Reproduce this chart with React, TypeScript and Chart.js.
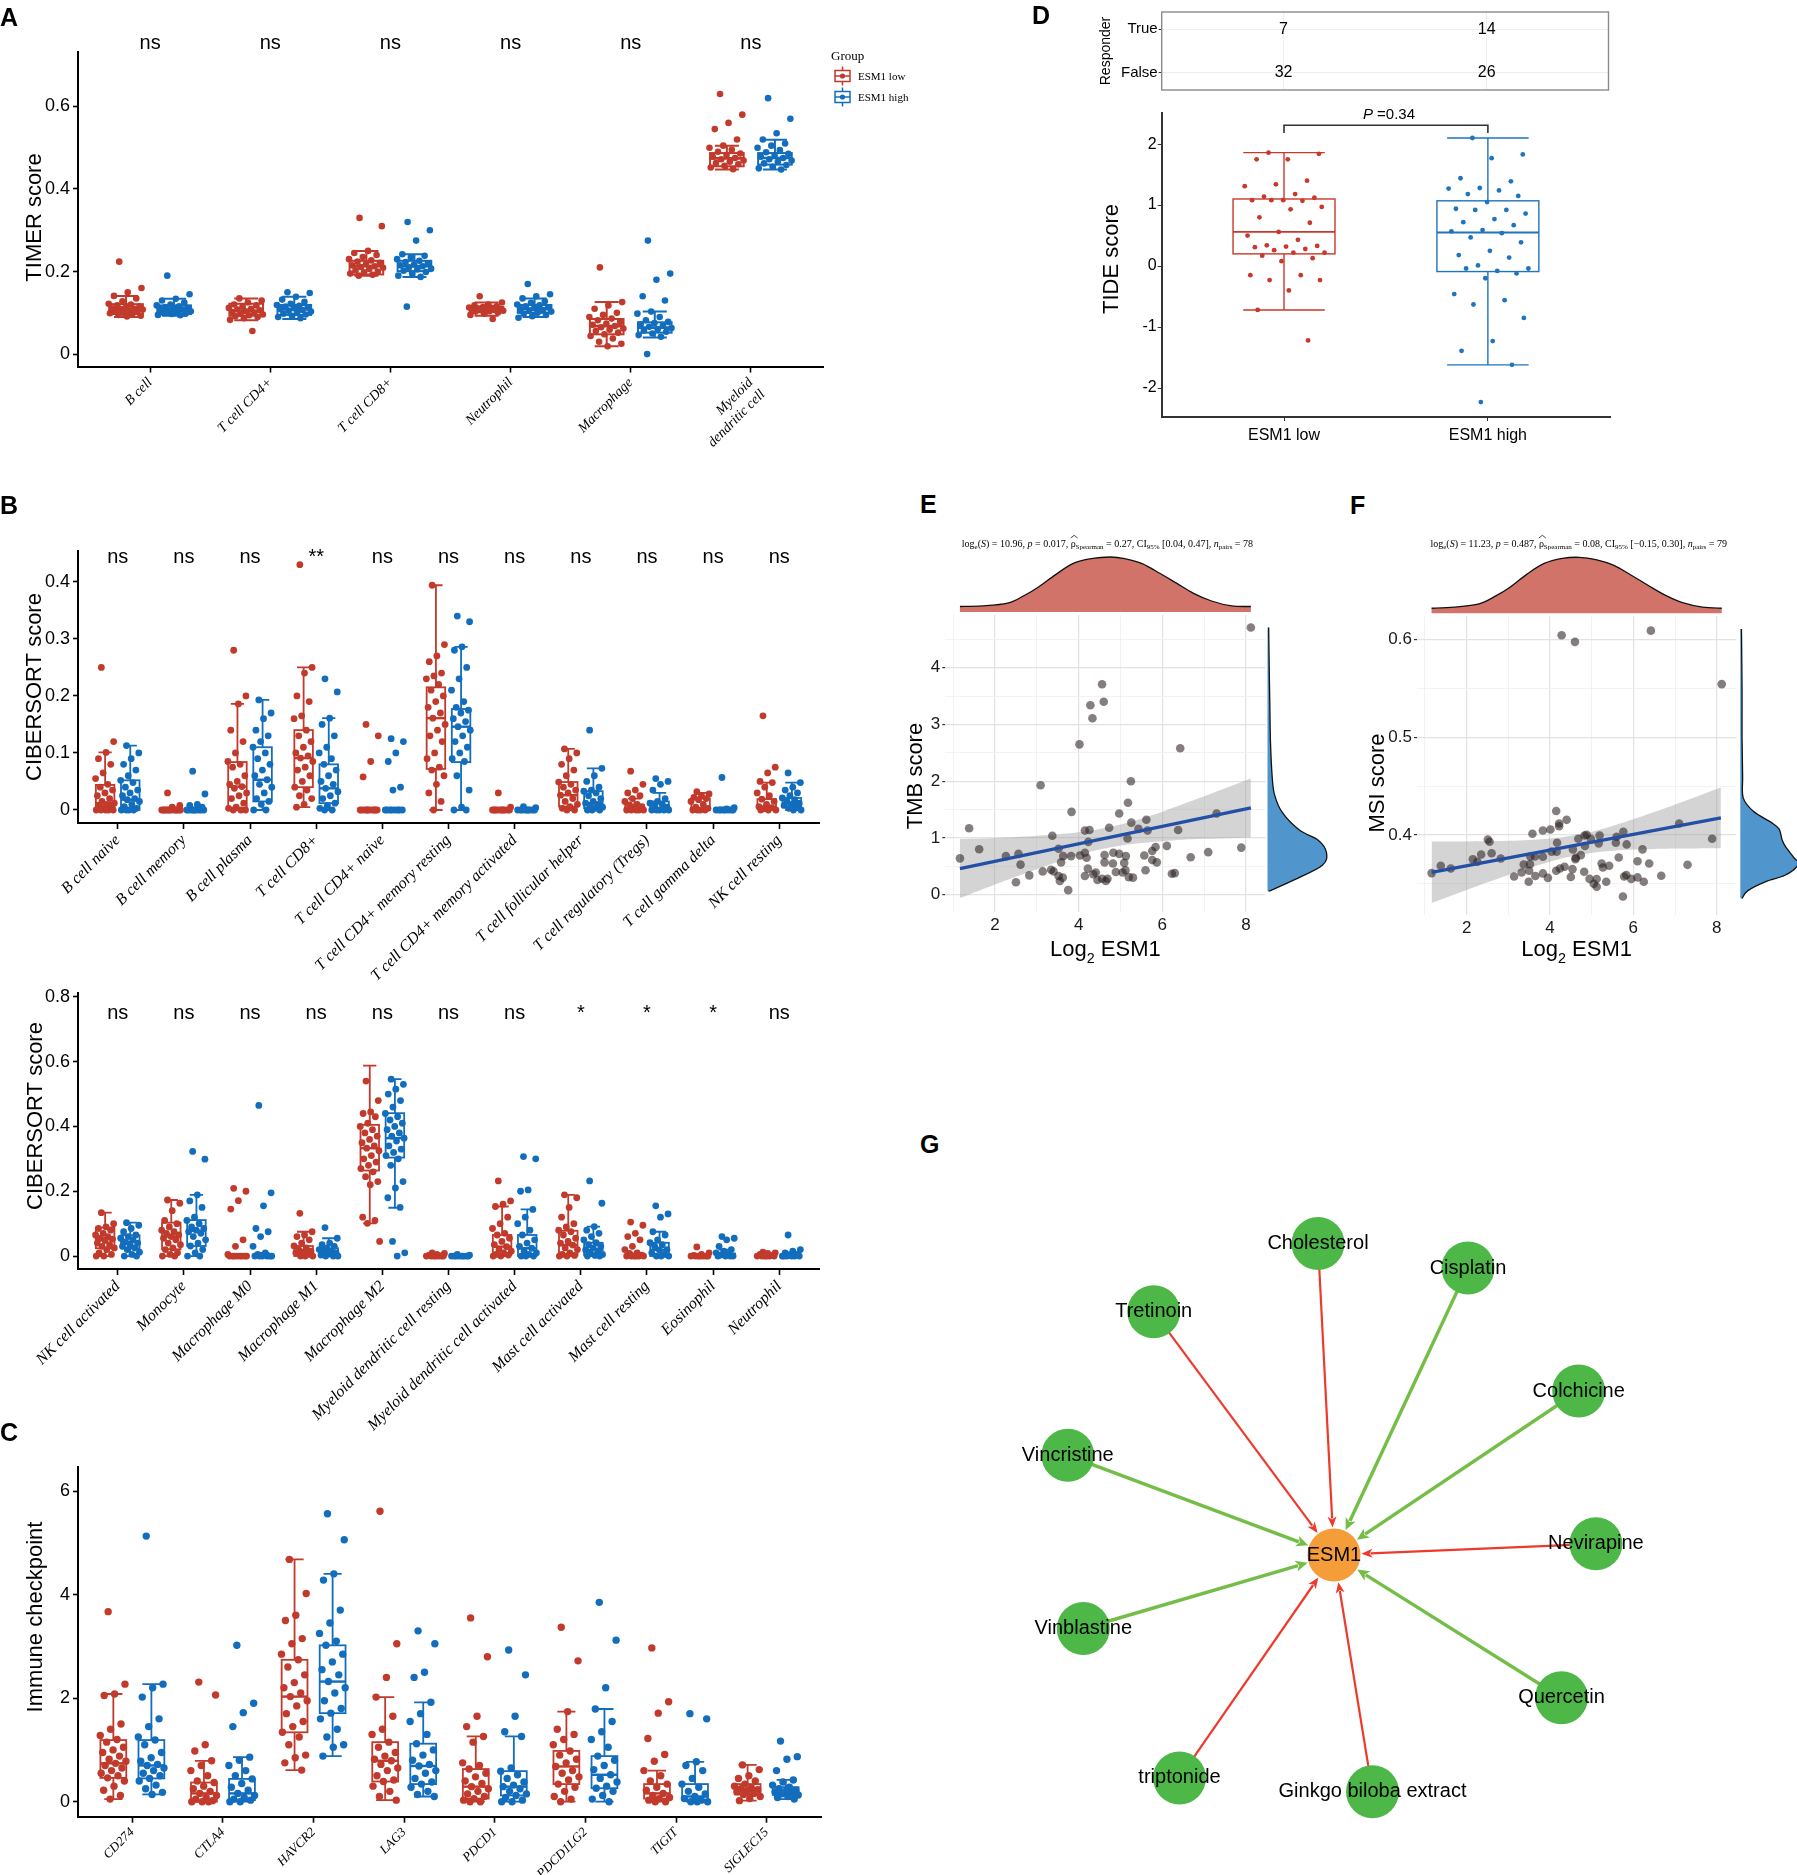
import React, { useEffect, useRef } from 'react';
import { Chart, registerables } from 'chart.js';

Chart.register(...registerables);
Chart.defaults.font.family = '"Liberation Sans", Arial, sans-serif';
Chart.defaults.color = '#000';

// ===================== DATA =====================
const groupNames = ['ESM1 low', 'ESM1 high'];

// ---- Panel A : TIMER ----
const timerCells: (string | string[])[] = ['B cell', 'T cell CD4+', 'T cell CD8+', 'Neutrophil', 'Macrophage', ['Myeloid', 'dendritic cell']];
const timerSig = ['ns', 'ns', 'ns', 'ns', 'ns', 'ns'];
const timerTicks = [0, 0.2, 0.4, 0.6];
const timerLowBox = [
  [0.09, 0.097, 0.109, 0.121, 0.141], [0.082, 0.093, 0.105, 0.122, 0.135], [0.19, 0.193, 0.213, 0.226, 0.25],
  [0.093, 0.103, 0.108, 0.114, 0.125], [0.019, 0.048, 0.068, 0.085, 0.126], [0.447, 0.455, 0.474, 0.487, 0.505],
];
const timerHighBox = [
  [0.093, 0.097, 0.109, 0.118, 0.134], [0.085, 0.095, 0.109, 0.119, 0.139], [0.187, 0.201, 0.213, 0.226, 0.242],
  [0.09, 0.1, 0.11, 0.119, 0.135], [0.04, 0.052, 0.064, 0.077, 0.103], [0.447, 0.459, 0.475, 0.487, 0.519],
];
const timerLowPts = [
  [0.224, 0.16, 0.15, 0.141, 0.135, 0.128, 0.122, 0.12, 0.118, 0.115, 0.113, 0.111, 0.11, 0.109, 0.108, 0.106, 0.104, 0.102, 0.1, 0.099, 0.097, 0.095, 0.093, 0.091],
  [0.135, 0.13, 0.125, 0.12, 0.118, 0.115, 0.112, 0.11, 0.108, 0.106, 0.104, 0.102, 0.1, 0.098, 0.096, 0.094, 0.092, 0.09, 0.087, 0.083, 0.056],
  [0.33, 0.31, 0.25, 0.245, 0.24, 0.235, 0.23, 0.227, 0.224, 0.221, 0.218, 0.215, 0.213, 0.211, 0.209, 0.206, 0.203, 0.2, 0.198, 0.195, 0.192, 0.19],
  [0.14, 0.125, 0.12, 0.118, 0.116, 0.114, 0.113, 0.112, 0.111, 0.11, 0.109, 0.108, 0.107, 0.106, 0.105, 0.104, 0.103, 0.101, 0.098, 0.095, 0.085],
  [0.21, 0.126, 0.118, 0.11, 0.1, 0.095, 0.09, 0.086, 0.082, 0.078, 0.074, 0.071, 0.068, 0.065, 0.062, 0.059, 0.056, 0.052, 0.048, 0.044, 0.038, 0.03, 0.025, 0.019],
  [0.63, 0.58, 0.56, 0.545, 0.52, 0.505, 0.5, 0.495, 0.49, 0.486, 0.482, 0.478, 0.475, 0.472, 0.469, 0.466, 0.463, 0.46, 0.456, 0.452, 0.448],
];
const timerHighPts = [
  [0.19, 0.145, 0.134, 0.13, 0.125, 0.12, 0.118, 0.116, 0.114, 0.112, 0.11, 0.109, 0.108, 0.106, 0.104, 0.102, 0.1, 0.098, 0.097, 0.095, 0.094],
  [0.15, 0.148, 0.139, 0.132, 0.127, 0.122, 0.119, 0.117, 0.115, 0.113, 0.111, 0.109, 0.107, 0.105, 0.103, 0.1, 0.098, 0.096, 0.093, 0.09, 0.087],
  [0.32, 0.3, 0.275, 0.242, 0.238, 0.234, 0.23, 0.226, 0.223, 0.22, 0.217, 0.215, 0.213, 0.21, 0.207, 0.205, 0.202, 0.199, 0.195, 0.19, 0.187, 0.115],
  [0.17, 0.145, 0.14, 0.135, 0.128, 0.124, 0.12, 0.118, 0.116, 0.113, 0.111, 0.109, 0.107, 0.105, 0.103, 0.1, 0.098, 0.095, 0.092, 0.088],
  [0.275, 0.195, 0.18, 0.14, 0.13, 0.103, 0.098, 0.09, 0.082, 0.078, 0.075, 0.072, 0.069, 0.066, 0.063, 0.06, 0.057, 0.054, 0.05, 0.046, 0.042, 0.0],
  [0.62, 0.57, 0.535, 0.52, 0.51, 0.505, 0.5, 0.494, 0.489, 0.485, 0.481, 0.478, 0.475, 0.472, 0.469, 0.466, 0.462, 0.458, 0.454, 0.45, 0.447],
];

// ---- Panel B (upper) : CIBERSORT ----
const cib1Cells = ['B cell naive', 'B cell memory', 'B cell plasma', 'T cell CD8+', 'T cell CD4+ naive', 'T cell CD4+ memory resting',
  'T cell CD4+ memory activated', 'T cell follicular helper', 'T cell regulatory (Tregs)', 'T cell gamma delta', 'NK cell resting'];
const cib1Sig = ['ns', 'ns', 'ns', '**', 'ns', 'ns', 'ns', 'ns', 'ns', 'ns', 'ns'];
const cib1Ticks = [0, 0.1, 0.2, 0.3, 0.4];
const cib1LowBox = [
  [0, 0, 0.012, 0.044, 0.101], [0, 0, 0, 0, 0], [0, 0.003, 0.041, 0.084, 0.186], [0.005, 0.04, 0.091, 0.14, 0.25],
  [0, 0, 0, 0, 0], [0, 0.072, 0.161, 0.215, 0.394], [0, 0, 0, 0, 0], [0, 0.006, 0.026, 0.049, 0.107],
  [0, 0, 0, 0.009, 0.02], [0, 0, 0.003, 0.02, 0.03], [0, 0.002, 0.006, 0.019, 0.048],
];
const cib1HighBox = [
  [0, 0, 0.018, 0.052, 0.113], [0, 0, 0, 0, 0], [0, 0.015, 0.053, 0.11, 0.193], [0, 0.012, 0.038, 0.08, 0.161],
  [0, 0, 0, 0, 0], [0, 0.084, 0.146, 0.177, 0.286], [0, 0, 0, 0, 0], [0, 0.003, 0.012, 0.033, 0.073],
  [0, 0, 0, 0.015, 0.03], [0, 0, 0, 0.002, 0.004], [0, 0.005, 0.012, 0.021, 0.048],
];
const cib1LowPts = [
  [0.25, 0.12, 0.101, 0.09, 0.08, 0.065, 0.055, 0.045, 0.04, 0.035, 0.03, 0.025, 0.02, 0.015, 0.012, 0.01, 0.008, 0.005, 0.003, 0, 0, 0, 0, 0],
  [0.03, 0.008, 0.005, 0, 0, 0, 0, 0, 0, 0, 0, 0, 0, 0, 0],
  [0.28, 0.2, 0.186, 0.14, 0.12, 0.1, 0.085, 0.08, 0.075, 0.06, 0.05, 0.045, 0.041, 0.038, 0.03, 0.025, 0.02, 0.012, 0.005, 0.003, 0, 0, 0],
  [0.43, 0.25, 0.24, 0.2, 0.19, 0.165, 0.16, 0.14, 0.13, 0.12, 0.11, 0.1, 0.095, 0.091, 0.085, 0.075, 0.07, 0.06, 0.05, 0.04, 0.035, 0.025, 0.02, 0.01, 0.005],
  [0.15, 0.13, 0.085, 0.058, 0, 0, 0, 0, 0, 0, 0, 0, 0, 0],
  [0.394, 0.29, 0.27, 0.26, 0.24, 0.235, 0.23, 0.22, 0.21, 0.2, 0.19, 0.18, 0.17, 0.161, 0.15, 0.14, 0.13, 0.12, 0.1, 0.09, 0.075, 0.07, 0.06, 0.045, 0.03, 0.015, 0],
  [0.03, 0.005, 0, 0, 0, 0, 0, 0, 0, 0, 0, 0],
  [0.107, 0.1, 0.09, 0.08, 0.07, 0.06, 0.049, 0.045, 0.04, 0.035, 0.03, 0.026, 0.02, 0.015, 0.01, 0.006, 0.003, 0, 0],
  [0.068, 0.045, 0.035, 0.03, 0.025, 0.02, 0.015, 0.01, 0.009, 0.006, 0.003, 0, 0, 0, 0, 0],
  [0.032, 0.028, 0.025, 0.022, 0.02, 0.018, 0.015, 0.01, 0.005, 0.003, 0, 0, 0, 0],
  [0.165, 0.075, 0.065, 0.05, 0.048, 0.04, 0.03, 0.025, 0.019, 0.015, 0.01, 0.006, 0.004, 0.002, 0, 0, 0],
];
const cib1HighPts = [
  [0.113, 0.1, 0.09, 0.08, 0.07, 0.06, 0.052, 0.048, 0.04, 0.035, 0.03, 0.025, 0.02, 0.018, 0.015, 0.01, 0.006, 0.003, 0, 0, 0, 0],
  [0.068, 0.028, 0.01, 0.008, 0.005, 0, 0, 0, 0, 0, 0, 0, 0, 0],
  [0.193, 0.17, 0.16, 0.14, 0.13, 0.12, 0.11, 0.1, 0.09, 0.08, 0.07, 0.06, 0.053, 0.045, 0.04, 0.03, 0.02, 0.015, 0.01, 0, 0],
  [0.23, 0.207, 0.161, 0.15, 0.13, 0.11, 0.1, 0.09, 0.08, 0.07, 0.06, 0.05, 0.045, 0.038, 0.032, 0.025, 0.02, 0.012, 0.008, 0.003, 0, 0],
  [0.125, 0.12, 0.1, 0.085, 0.04, 0.035, 0, 0, 0, 0, 0, 0, 0, 0],
  [0.34, 0.33, 0.286, 0.28, 0.25, 0.23, 0.21, 0.19, 0.18, 0.175, 0.17, 0.16, 0.155, 0.146, 0.14, 0.13, 0.12, 0.11, 0.1, 0.09, 0.085, 0.06, 0.035, 0.005, 0, 0],
  [0.006, 0.004, 0, 0, 0, 0, 0, 0, 0, 0, 0],
  [0.14, 0.073, 0.06, 0.05, 0.04, 0.035, 0.033, 0.03, 0.025, 0.02, 0.015, 0.012, 0.01, 0.008, 0.005, 0.003, 0, 0, 0],
  [0.055, 0.05, 0.045, 0.035, 0.02, 0.015, 0.012, 0.01, 0.008, 0.005, 0, 0, 0, 0, 0],
  [0.057, 0.004, 0.002, 0, 0, 0, 0, 0, 0, 0, 0],
  [0.065, 0.048, 0.04, 0.035, 0.03, 0.025, 0.021, 0.018, 0.015, 0.012, 0.01, 0.008, 0.005, 0.003, 0, 0],
];

// ---- Panel B (lower) : CIBERSORT ----
const cib2Cells = ['NK cell activated', 'Monocyte', 'Macrophage M0', 'Macrophage M1', 'Macrophage M2', 'Myeloid dendritic cell resting',
  'Myeloid dendritic cell activated', 'Mast cell activated', 'Mast cell resting', 'Eosinophil', 'Neutrophil'];
const cib2Sig = ['ns', 'ns', 'ns', 'ns', 'ns', 'ns', 'ns', '*', '*', '*', 'ns'];
const cib2Ticks = [0, 0.2, 0.4, 0.6, 0.8];
const cib2LowBox = [
  [0, 0.024, 0.052, 0.088, 0.134], [0, 0.021, 0.06, 0.103, 0.173], [0, 0, 0, 0, 0], [0, 0, 0.013, 0.031, 0.075],
  [0.101, 0.264, 0.333, 0.405, 0.588], [0, 0, 0, 0.003, 0.008], [0, 0.003, 0.029, 0.065, 0.153], [0, 0.002, 0.034, 0.078, 0.189],
  [0, 0, 0, 0.003, 0.008], [0, 0, 0, 0, 0.002], [0, 0, 0, 0.002, 0.005],
];
const cib2HighBox = [
  [0, 0.024, 0.044, 0.064, 0.103], [0, 0.031, 0.078, 0.111, 0.189], [0, 0, 0, 0.005, 0.01], [0, 0.002, 0.01, 0.024, 0.055],
  [0.149, 0.304, 0.364, 0.441, 0.546], [0, 0, 0, 0, 0.003], [0, 0, 0.024, 0.065, 0.144], [0, 0.002, 0.019, 0.041, 0.091],
  [0, 0, 0.019, 0.041, 0.075], [0, 0, 0, 0.008, 0.02], [0, 0, 0, 0.004, 0.01],
];
const cib2LowPts = [
  [0.134, 0.1, 0.09, 0.085, 0.08, 0.07, 0.065, 0.06, 0.055, 0.052, 0.048, 0.04, 0.035, 0.03, 0.025, 0.02, 0.01, 0.005, 0, 0],
  [0.173, 0.163, 0.14, 0.11, 0.1, 0.09, 0.08, 0.075, 0.07, 0.065, 0.06, 0.055, 0.05, 0.04, 0.035, 0.025, 0.02, 0.01, 0.005, 0, 0],
  [0.209, 0.2, 0.171, 0.145, 0.05, 0.03, 0.005, 0, 0, 0, 0, 0, 0, 0, 0],
  [0.132, 0.075, 0.065, 0.06, 0.05, 0.04, 0.031, 0.025, 0.02, 0.015, 0.013, 0.01, 0.005, 0, 0, 0],
  [0.54, 0.48, 0.445, 0.44, 0.43, 0.41, 0.4, 0.39, 0.38, 0.37, 0.36, 0.35, 0.34, 0.333, 0.325, 0.31, 0.3, 0.29, 0.28, 0.27, 0.26, 0.245, 0.23, 0.22, 0.12, 0.11, 0.101, 0.045],
  [0.01, 0.008, 0.005, 0.003, 0, 0, 0, 0, 0, 0, 0],
  [0.232, 0.17, 0.16, 0.153, 0.12, 0.1, 0.085, 0.07, 0.065, 0.055, 0.045, 0.035, 0.029, 0.02, 0.015, 0.01, 0.005, 0.003, 0, 0],
  [0.189, 0.18, 0.15, 0.12, 0.1, 0.09, 0.08, 0.075, 0.065, 0.055, 0.045, 0.04, 0.034, 0.025, 0.02, 0.01, 0.005, 0.002, 0, 0],
  [0.105, 0.095, 0.07, 0.06, 0.05, 0.03, 0.02, 0.01, 0.008, 0.003, 0, 0, 0, 0, 0, 0],
  [0.028, 0.01, 0.005, 0.002, 0, 0, 0, 0, 0, 0, 0],
  [0.012, 0.01, 0.008, 0.005, 0.002, 0, 0, 0, 0, 0, 0],
];
const cib2HighPts = [
  [0.103, 0.095, 0.085, 0.075, 0.065, 0.06, 0.055, 0.05, 0.044, 0.04, 0.035, 0.03, 0.025, 0.02, 0.012, 0.005, 0, 0],
  [0.323, 0.299, 0.189, 0.17, 0.15, 0.12, 0.11, 0.1, 0.09, 0.085, 0.08, 0.075, 0.07, 0.06, 0.05, 0.04, 0.031, 0.02, 0.01, 0, 0],
  [0.465, 0.195, 0.155, 0.085, 0.075, 0.06, 0.03, 0.01, 0.005, 0, 0, 0, 0, 0, 0],
  [0.088, 0.055, 0.04, 0.035, 0.03, 0.024, 0.02, 0.015, 0.012, 0.01, 0.006, 0.003, 0, 0, 0],
  [0.546, 0.53, 0.515, 0.5, 0.48, 0.46, 0.44, 0.43, 0.42, 0.41, 0.4, 0.39, 0.38, 0.37, 0.364, 0.355, 0.34, 0.33, 0.32, 0.31, 0.3, 0.28, 0.23, 0.21, 0.18, 0.15, 0.045, 0.01, 0.0],
  [0.005, 0.003, 0, 0, 0, 0, 0, 0, 0, 0],
  [0.307, 0.3, 0.204, 0.2, 0.144, 0.12, 0.1, 0.08, 0.065, 0.05, 0.04, 0.03, 0.024, 0.015, 0.01, 0.005, 0, 0, 0],
  [0.232, 0.163, 0.091, 0.08, 0.07, 0.06, 0.05, 0.041, 0.035, 0.03, 0.025, 0.019, 0.015, 0.01, 0.005, 0.002, 0, 0],
  [0.155, 0.13, 0.12, 0.075, 0.065, 0.05, 0.041, 0.035, 0.03, 0.02, 0.019, 0.01, 0.005, 0, 0, 0],
  [0.06, 0.055, 0.05, 0.03, 0.02, 0.015, 0.01, 0.008, 0.003, 0, 0, 0, 0],
  [0.065, 0.02, 0.015, 0.01, 0.006, 0.004, 0, 0, 0, 0, 0, 0],
];

// ---- Panel C : immune checkpoints ----
const checkpointGenes = ['CD274', 'CTLA4', 'HAVCR2', 'LAG3', 'PDCD1', 'PDCD1LG2', 'TIGIT', 'SIGLEC15'];
const checkpointTicks = [0, 2, 4, 6];
const icpLowBox = [
  [0.05, 0.46, 0.74, 1.19, 2.08], [0, 0, 0.16, 0.37, 0.79], [0.61, 1.34, 2.03, 2.74, 4.68], [0.03, 0.39, 0.79, 1.15, 2.02],
  [0, 0.06, 0.29, 0.63, 1.26], [0, 0.34, 0.68, 0.98, 1.74], [0, 0.06, 0.16, 0.34, 0.6], [0.02, 0.14, 0.23, 0.34, 0.71],
];
const icpHighBox = [
  [0.14, 0.45, 0.7, 1.19, 2.27], [0, 0.03, 0.16, 0.44, 0.86], [0.88, 1.71, 2.32, 3.02, 4.4], [0.1, 0.34, 0.69, 1.12, 1.92],
  [0, 0.12, 0.29, 0.59, 1.26], [0, 0.26, 0.52, 0.88, 1.79], [0, 0.03, 0.1, 0.34, 0.77], [0.05, 0.13, 0.19, 0.28, 0.42],
];
const icpLowPts = [
  [3.67, 2.27, 2.08, 2.05, 1.5, 1.4, 1.28, 1.2, 1.15, 1.05, 1.0, 0.95, 0.88, 0.82, 0.78, 0.74, 0.7, 0.65, 0.6, 0.55, 0.5, 0.46, 0.4, 0.3, 0.22, 0.12, 0.05],
  [2.31, 2.06, 1.1, 0.98, 0.79, 0.7, 0.6, 0.5, 0.4, 0.37, 0.3, 0.25, 0.2, 0.16, 0.12, 0.08, 0.05, 0.02, 0, 0, 0],
  [4.68, 4.02, 3.6, 3.5, 3.15, 3.05, 2.85, 2.74, 2.6, 2.45, 2.3, 2.2, 2.1, 2.03, 1.95, 1.85, 1.7, 1.55, 1.45, 1.34, 1.25, 1.1, 0.9, 0.85, 0.75, 0.61],
  [5.61, 3.05, 2.4, 2.02, 1.65, 1.4, 1.3, 1.15, 1.05, 0.95, 0.88, 0.82, 0.79, 0.72, 0.65, 0.6, 0.5, 0.42, 0.39, 0.3, 0.2, 0.1, 0.03],
  [3.55, 2.8, 1.65, 1.45, 1.26, 1.15, 0.75, 0.7, 0.63, 0.55, 0.48, 0.4, 0.35, 0.29, 0.25, 0.2, 0.15, 0.1, 0.06, 0.03, 0, 0],
  [3.37, 2.72, 1.74, 1.4, 1.3, 1.2, 1.1, 0.98, 0.9, 0.82, 0.75, 0.68, 0.6, 0.55, 0.48, 0.42, 0.34, 0.28, 0.2, 0.1, 0.05, 0],
  [2.97, 1.93, 1.71, 1.22, 0.91, 0.78, 0.6, 0.5, 0.4, 0.34, 0.28, 0.22, 0.16, 0.12, 0.08, 0.06, 0.03, 0, 0],
  [0.71, 0.62, 0.5, 0.45, 0.4, 0.34, 0.3, 0.27, 0.25, 0.23, 0.21, 0.19, 0.16, 0.14, 0.1, 0.06, 0.02],
];
const icpHighPts = [
  [5.13, 2.27, 2.2, 2.02, 1.6, 1.45, 1.25, 1.19, 1.1, 0.95, 0.85, 0.78, 0.72, 0.7, 0.65, 0.6, 0.55, 0.5, 0.45, 0.4, 0.32, 0.25, 0.18, 0.14],
  [3.02, 1.9, 1.72, 1.45, 0.86, 0.8, 0.7, 0.6, 0.5, 0.44, 0.35, 0.28, 0.22, 0.16, 0.12, 0.08, 0.05, 0.03, 0, 0],
  [5.56, 5.06, 4.4, 4.28, 3.7, 3.45, 3.25, 3.1, 3.02, 2.85, 2.7, 2.55, 2.45, 2.32, 2.2, 2.1, 1.95, 1.8, 1.71, 1.6, 1.4, 1.25, 1.1, 1.05, 0.88],
  [3.3, 3.05, 2.5, 2.4, 1.92, 1.7, 1.55, 1.3, 1.12, 1.0, 0.9, 0.8, 0.72, 0.69, 0.6, 0.55, 0.45, 0.38, 0.34, 0.28, 0.2, 0.14, 0.1],
  [2.93, 2.45, 1.65, 1.35, 1.26, 0.65, 0.59, 0.52, 0.45, 0.38, 0.32, 0.29, 0.25, 0.2, 0.15, 0.12, 0.08, 0.03, 0, 0],
  [3.85, 3.12, 2.2, 1.79, 1.55, 1.35, 1.2, 1.05, 0.88, 0.8, 0.7, 0.62, 0.52, 0.45, 0.38, 0.3, 0.26, 0.2, 0.12, 0.05, 0],
  [1.7, 1.6, 0.77, 0.7, 0.6, 0.45, 0.34, 0.28, 0.2, 0.15, 0.1, 0.06, 0.03, 0, 0, 0],
  [1.17, 0.87, 0.82, 0.6, 0.42, 0.38, 0.32, 0.28, 0.25, 0.22, 0.2, 0.19, 0.17, 0.15, 0.13, 0.1, 0.08, 0.05],
];

// ---- Panel D : responder table + TIDE ----
const responderLevels = ['False', 'True'];
const responderCounts = [[32, 26], [7, 14]]; // rows: False, True ; cols: low, high
const tideTicks = [-2, -1, 0, 1, 2];
const tideLowBox = [-0.72, 0.2, 0.56, 1.1, 1.86];
const tideHighBox = [-1.62, -0.09, 0.55, 1.07, 2.1];
const tideLow = [1.86, 1.84, 1.75, 1.75, 1.4, 1.34, 1.31, 1.18, 1.14, 1.12, 1.08, 1.08, 1.07, 1.08, 0.97, 0.93, 0.8, 0.71, 0.56, 0.5,
  0.43, 0.34, 0.33, 0.32, 0.31, 0.28, 0.26, 0.22, 0.22, 0.17, 0.13, 0.08, -0.15, -0.15, -0.23, -0.23, -0.4, -0.72, -1.22];
const tideHigh = [2.1, 1.83, 1.77, 1.44, 1.39, 1.28, 1.27, 1.24, 1.18, 1.15, 1.05, 0.94, 0.92, 0.92, 0.86, 0.77, 0.72, 0.67, 0.59, 0.57,
  0.54, 0.47, 0.39, 0.25, 0.18, 0.14, 0.01, -0.04, -0.08, -0.04, -0.12, -0.2, -0.46, -0.56, -0.63, -0.85, -1.23, -1.39, -1.62, -2.23];
const tidePValue = '0.34';

// ---- Panel E : TMB vs ESM1 ----
const tmbESM1 = [8.12, 4.56, 4.6, 4.28, 4.33, 4.02, 6.43, 3.09, 5.25, 5.18, 3.83, 4.97, 1.38, 5.26, 5.62, 4.73, 4.15, 4.26, 5.43, 5.65,
  6.38, 7.3, 3.37, 5.17, 1.62, 3.52, 4.23, 1.16, 2.26, 2.56, 2.61, 2.82, 3.63, 3.82, 4.03, 4.19, 4.15, 4.62, 4.83, 4.97,
  5.13, 4.62, 4.82, 5.09, 5.57, 5.76, 5.84, 6.11, 5.76, 5.87, 6.68, 7.1, 7.89, 3.58, 3.14, 3.34, 3.52, 4.22, 4.15, 4.41,
  4.89, 5.12, 5.6, 6.23, 5.2, 4.56, 4.69, 3.75, 2.5, 3.55, 3.62, 4.45, 4.65, 5.3, 3.4, 5.05, 4.35, 6.3];
const tmbScore = [4.71, 3.71, 3.4, 3.34, 3.11, 2.65, 2.58, 1.93, 2.0, 1.62, 1.46, 1.43, 1.17, 1.27, 1.32, 1.18, 1.13, 1.14, 1.16, 1.13,
  1.14, 1.43, 1.04, 0.99, 0.8, 0.81, 0.93, 0.64, 0.68, 0.72, 0.53, 0.34, 0.68, 0.68, 0.69, 0.65, 0.74, 0.7, 0.74, 0.72,
  0.68, 0.57, 0.55, 0.56, 0.69, 0.77, 0.84, 0.86, 0.61, 0.57, 0.66, 0.75, 0.83, 0.57, 0.41, 0.44, 0.33, 0.46, 0.33, 0.39,
  0.4, 0.43, 0.43, 0.37, 0.31, 0.28, 0.28, 0.08, 0.22, 0.24, 0.3, 0.26, 0.24, 0.3, 0.41, 0.39, 0.36, 0.38];
const tmbFitX = [1.16, 8.12];
const tmbFitY = [0.46, 1.53];
const tmbBandX = [1.16, 2, 3, 4, 4.65, 5.5, 6.5, 7.3, 8.12];
const tmbBandLo = [-0.06, 0.18, 0.45, 0.7, 0.82, 0.91, 0.97, 0.99, 1.01];
const tmbBandHi = [0.98, 1.0, 1.04, 1.1, 1.18, 1.34, 1.6, 1.82, 2.05];
const tmbTicks = [0, 0.5, 1, 1.5, 2, 2.5, 3, 3.5, 4, 4.5];
const esm1Ticks = [1, 2, 3, 4, 5, 6, 7, 8];
const tmbTopX = [1.16, 1.7, 2.3, 2.7, 3.05, 3.45, 3.86, 4.3, 4.76, 5.1, 5.52, 5.95, 6.35, 6.75, 7.18, 7.66, 8.12];
const tmbTopD = [0.1, 0.11, 0.16, 0.3, 0.46, 0.68, 0.88, 0.97, 1.0, 0.97, 0.88, 0.7, 0.52, 0.34, 0.2, 0.11, 0.1];
const tmbSideY = [0.06, 0.27, 0.52, 0.74, 0.96, 1.14, 1.45, 1.76, 2.07, 2.7, 3.32, 3.94, 4.71];
const tmbSideD = [0.02, 0.47, 0.93, 1.0, 0.86, 0.54, 0.25, 0.12, 0.08, 0.05, 0.04, 0.03, 0.02];
const tmbStats = { logS: '10.96', p: '0.017', rho: '0.27', ci: '[0.04, 0.47]', n: '78' };

// ---- Panel F : MSI vs ESM1 ----
const msiESM1 = [4.28, 4.6, 6.42, 8.12, 4.15, 4.22, 4.22, 4.4, 3.58, 3.83, 4.01, 2.51, 2.55, 2.6, 1.38, 1.62, 1.16, 2.26, 2.82, 3.53,
  3.64, 3.83, 3.52, 3.37, 4.04, 4.16, 4.17, 4.55, 4.68, 4.83, 4.88, 4.98, 5.19, 5.17, 4.84, 4.74, 4.62, 4.61, 5.6, 5.76,
  5.58, 5.84, 6.22, 5.65, 5.24, 5.42, 5.27, 6.38, 7.1, 7.89, 7.3, 4.35, 4.24, 4.15, 3.83, 4.54, 4.82, 3.32, 3.5, 3.14,
  5.78, 5.83, 6.1, 6.67, 5.12, 3.49, 5.05, 5.12, 5.75, 5.35, 4.95, 6.25, 3.65, 4.5, 5.95, 3.95, 2.15, 2.35, 6.1];
const msiScore = [0.6046, 0.5978, 0.6093, 0.5545, 0.4245, 0.4117, 0.409, 0.4155, 0.4012, 0.4045, 0.4056, 0.3954, 0.3931, 0.3812, 0.3684, 0.3657, 0.3609, 0.3725, 0.3759, 0.3779,
  0.3779, 0.3776, 0.3701, 0.3698, 0.3829, 0.3829, 0.392, 0.3852, 0.3961, 0.3995, 0.4002, 0.3961, 0.3995, 0.3914, 0.3887, 0.3793, 0.3766, 0.3752, 0.3981, 0.4032,
  0.392, 0.3903, 0.3852, 0.3769, 0.3708, 0.3684, 0.3667, 0.3708, 0.4117, 0.3961, 0.3694, 0.3674, 0.3657, 0.3633, 0.3606, 0.365, 0.3623, 0.3616, 0.3633, 0.3575,
  0.3575, 0.3589, 0.3565, 0.3582, 0.3548, 0.352, 0.35, 0.347, 0.337, 0.352, 0.355, 0.352, 0.358, 0.357, 0.355, 0.356, 0.375, 0.38, 0.373];
const msiFitX = [1.16, 8.1];
const msiFitY = [0.3617, 0.4175];
const msiBandX = [1.16, 2, 3, 4, 4.65, 5.5, 6.5, 7.3, 8.1];
const msiBandLo = [0.3302, 0.3436, 0.359, 0.3726, 0.3792, 0.3839, 0.3857, 0.3861, 0.3863];
const msiBandHi = [0.3932, 0.3934, 0.394, 0.3964, 0.4002, 0.4093, 0.4235, 0.4359, 0.4487];
const msiTicks = [0.35, 0.4, 0.45, 0.5, 0.55, 0.6];
const msiTopX = [1.16, 1.7, 2.3, 2.7, 3.05, 3.45, 3.86, 4.3, 4.7, 5.1, 5.52, 5.95, 6.35, 6.75, 7.18, 7.66, 8.12];
const msiTopD = [0.09, 0.11, 0.17, 0.31, 0.47, 0.7, 0.89, 0.98, 1.0, 0.96, 0.86, 0.68, 0.5, 0.33, 0.19, 0.11, 0.09];
const msiSideY = [0.335, 0.343, 0.352, 0.359, 0.37, 0.377, 0.388, 0.395, 0.406, 0.413, 0.424, 0.438, 0.46, 0.5, 0.55, 0.611];
const msiSideD = [0.03, 0.13, 0.43, 0.78, 1.0, 0.92, 0.78, 0.72, 0.67, 0.53, 0.23, 0.05, 0.04, 0.03, 0.03, 0.02];
const msiStats = { logS: '11.23', p: '0.487', rho: '0.08', ci: '[\u22120.15, 0.30]', n: '79' };

// ---- Panel G : drug network ----
const hubName = 'ESM1';
const drugNames = ['Cholesterol', 'Cisplatin', 'Tretinoin', 'Colchicine', 'Vincristine', 'Nevirapine', 'Vinblastine', 'Quercetin', 'triptonide', 'Ginkgo biloba extract'];
const drugEdgeType = ['type1', 'type2', 'type1', 'type2', 'type2', 'type1', 'type2', 'type2', 'type1', 'type1'];
const drugLayoutX = [318, 468, 153.7, 578.7, 67.8, 595.9, 83.3, 561.5, 179.5, 372.5];
const drugLayoutY = [63.5, 88, 131.8, 211, 275.3, 363.8, 448.5, 517.7, 597.9, 611.7];
const hubLayout = [334, 375];

// ===================== STYLE / HELPERS =====================
const RED = '#C13A2C';
const BLUE = '#136DBD';
const SERIF = '"Liberation Serif", "Times New Roman", serif';
const SANS = '"Liberation Sans", Arial, sans-serif';

const jit = (i: number) => ((i * 0.6180339887 + 0.31) % 1) * 2 - 1;

type BoxItem = { cx: number; s: number[]; color: string };

function boxesPlugin(items: BoxItem[], boxW: number, capW: number, lw: number) {
  return {
    id: 'boxes',
    beforeDatasetsDraw(chart: any) {
      const { ctx, scales } = chart;
      const x = scales.x, y = scales.y;
      ctx.save();
      items.forEach((it) => {
        const px = (v: number) => x.getPixelForValue(v);
        const l = px(it.cx - boxW / 2), r = px(it.cx + boxW / 2);
        const cl = px(it.cx - capW / 2), cr = px(it.cx + capW / 2), c = px(it.cx);
        const [mn, q1, md, q3, mx] = it.s.map((v) => y.getPixelForValue(v));
        ctx.strokeStyle = it.color;
        ctx.lineWidth = lw;
        ctx.beginPath();
        ctx.moveTo(c, q3); ctx.lineTo(c, mx);
        ctx.moveTo(c, q1); ctx.lineTo(c, mn);
        ctx.moveTo(cl, mx); ctx.lineTo(cr, mx);
        ctx.moveTo(cl, mn); ctx.lineTo(cr, mn);
        ctx.stroke();
        ctx.strokeRect(l, q3, r - l, q1 - q3);
        ctx.lineWidth = lw * 1.35;
        ctx.beginPath(); ctx.moveTo(l, md); ctx.lineTo(r, md); ctx.stroke();
      });
      ctx.restore();
    },
  };
}

function yTitlePlugin(text: string, cx: number, cy: number, size: number) {
  return {
    id: 'ytitle',
    afterDraw(chart: any) {
      const { ctx } = chart;
      ctx.save();
      ctx.translate(cx, cy);
      ctx.rotate(-Math.PI / 2);
      ctx.font = `${size}px ${SANS}`;
      ctx.fillStyle = '#000';
      ctx.textAlign = 'center';
      ctx.textBaseline = 'middle';
      ctx.fillText(text, 0, 0);
      ctx.restore();
    },
  };
}

function sigPlugin(labels: string[], baseOff: number) {
  return {
    id: 'sig',
    afterDraw(chart: any) {
      const { ctx, chartArea, scales } = chart;
      ctx.save();
      ctx.font = `20px ${SANS}`;
      ctx.fillStyle = '#000';
      ctx.textAlign = 'center';
      ctx.textBaseline = 'alphabetic';
      labels.forEach((t, i) => ctx.fillText(t, scales.x.getPixelForValue(i + 1), chartArea.top + baseOff));
      ctx.restore();
    },
  };
}

const legendPlugin = {
  id: 'grpLegend',
  afterDraw(chart: any) {
    const { ctx } = chart;
    ctx.save();
    ctx.fillStyle = '#000';
    ctx.font = `13px ${SERIF}`;
    ctx.textBaseline = 'alphabetic';
    ctx.fillText('Group', 831, 60);
    [RED, BLUE].forEach((col, i) => {
      const cy = 76 + i * 21, cx = 842.5;
      ctx.strokeStyle = col; ctx.fillStyle = col; ctx.lineWidth = 1.5;
      ctx.beginPath();
      ctx.moveTo(cx, cy - 9.5); ctx.lineTo(cx, cy - 5.5);
      ctx.moveTo(cx, cy + 5.5); ctx.lineTo(cx, cy + 9.5);
      ctx.moveTo(cx - 7.5, cy); ctx.lineTo(cx + 7.5, cy);
      ctx.stroke();
      ctx.strokeRect(cx - 7.5, cy - 5.5, 15, 11);
      ctx.beginPath(); ctx.arc(cx, cy, 2.6, 0, Math.PI * 2); ctx.fill();
      ctx.fillStyle = '#000';
      ctx.font = `11px ${SERIF}`;
      ctx.fillText(groupNames[i], 858, cy + 4);
    });
    ctx.restore();
  },
};

function makeBoxChart(canvas: HTMLCanvasElement, o: any) {
  const cats = o.cats;
  const n = cats.length;
  const dodge = o.dodge;
  const pts = (arr: number[][], off: number) =>
    arr.flatMap((vals, ci) => vals.map((v, i) => ({ x: ci + 1 + off + jit(i) * o.jw, y: v })));
  const items: BoxItem[] = [];
  o.lowBox.forEach((s: number[], i: number) => items.push({ cx: i + 1 - dodge, s, color: RED }));
  o.highBox.forEach((s: number[], i: number) => items.push({ cx: i + 1 + dodge, s, color: BLUE }));
  const plugins: any[] = [boxesPlugin(items, o.boxW, o.capW, o.lw), yTitlePlugin(o.yTitle, o.titleX, o.titleY, 22)];
  if (o.sig) plugins.push(sigPlugin(o.sig, o.sigOff));
  if (o.extra) plugins.push(o.extra);
  return new Chart(canvas, {
    type: 'scatter',
    data: {
      datasets: [
        { data: pts(o.lowPts, -dodge), backgroundColor: RED, pointRadius: o.r, borderWidth: 0 },
        { data: pts(o.highPts, dodge), backgroundColor: BLUE, pointRadius: o.r, borderWidth: 0 },
      ],
    },
    options: {
      responsive: false,
      animation: false,
      events: [],
      layout: { autoPadding: false, padding: { top: o.padTop, right: o.padRight, left: 0, bottom: 0 } },
      plugins: { legend: { display: false }, tooltip: { enabled: false } },
      scales: {
        x: {
          type: 'linear', min: 0.4, max: n + 0.6,
          afterBuildTicks: (s: any) => { s.ticks = cats.map((_: any, i: number) => ({ value: i + 1 })); },
          afterFit: (s: any) => { s.height = o.xAxisH; },
          ticks: {
            autoSkip: false, minRotation: 45, maxRotation: 45, padding: 2, color: '#000',
            font: { family: SERIF, style: 'italic', size: o.labelSize },
            callback: (_v: any, i: number) => cats[i],
          },
          grid: { drawOnChartArea: false, drawTicks: true, tickLength: 6, tickColor: '#000', tickWidth: 1.6, color: '#000' },
          border: { display: true, color: '#000', width: 2 },
        },
        y: {
          type: 'linear', min: o.yMin, max: o.yMax,
          afterBuildTicks: (s: any) => { s.ticks = o.yTicks.map((v: number) => ({ value: v })); },
          afterFit: (s: any) => { s.width = o.yAxisW; },
          ticks: { padding: 3, color: '#000', font: { size: 18 }, callback: (v: any) => String(v) },
          grid: { drawOnChartArea: false, tickLength: 5, tickColor: '#000', tickWidth: 1.6, color: '#000' },
          border: { display: true, color: '#000', width: 2 },
          title: { display: false },
        },
      },
    } as any,
    plugins,
  });
}

function smoothPath(ctx: CanvasRenderingContext2D, p: number[][], move: boolean) {
  if (move) ctx.moveTo(p[0][0], p[0][1]); else ctx.lineTo(p[0][0], p[0][1]);
  for (let i = 0; i < p.length - 1; i++) {
    const p0 = p[i - 1] || p[i], p1 = p[i], p2 = p[i + 1], p3 = p[i + 2] || p2;
    ctx.bezierCurveTo(p1[0] + (p2[0] - p0[0]) / 6, p1[1] + (p2[1] - p0[1]) / 6,
      p2[0] - (p3[0] - p1[0]) / 6, p2[1] - (p3[1] - p1[1]) / 6, p2[0], p2[1]);
  }
}

type Seg = { t: string; it?: boolean; sub?: boolean; hat?: boolean };
function drawRich(ctx: CanvasRenderingContext2D, segs: Seg[], cx: number, by: number, size: number, family: string, subScale = 0.7, subShift = 0.28) {
  const font = (s: Seg) => `${s.it ? 'italic ' : ''}${s.sub ? size * subScale : size}px ${family}`;
  let w = 0;
  segs.forEach((s) => { ctx.font = font(s); w += ctx.measureText(s.t).width; });
  let x = cx - w / 2;
  ctx.textAlign = 'left';
  ctx.textBaseline = 'alphabetic';
  ctx.fillStyle = '#000';
  segs.forEach((s) => {
    ctx.font = font(s);
    const sw = ctx.measureText(s.t).width;
    ctx.fillText(s.t, x, s.sub ? by + size * subShift : by);
    if (s.hat) {
      ctx.beginPath();
      ctx.lineWidth = 0.7;
      ctx.strokeStyle = '#000';
      ctx.moveTo(x, by - size * 0.85);
      ctx.lineTo(x + sw / 2 + 1, by - size * 1.12);
      ctx.lineTo(x + sw + 2, by - size * 0.85);
      ctx.stroke();
    }
    x += sw;
  });
}

function statSegs(st: any): Seg[] {
  return [
    { t: 'log' }, { t: 'e', sub: true }, { t: '(' }, { t: 'S', it: true }, { t: ') = ' + st.logS + ', ' },
    { t: 'p', it: true }, { t: ' = ' + st.p + ', ' }, { t: '\u03C1', hat: true }, { t: 'Spearman', sub: true },
    { t: ' = ' + st.rho + ', CI' }, { t: '95%', sub: true }, { t: ' ' + st.ci + ', ' },
    { t: 'n', it: true }, { t: 'pairs', sub: true }, { t: ' = ' + st.n },
  ];
}

function makeCorrChart(canvas: HTMLCanvasElement, o: any) {
  const isMajorY = o.isMajorY as (v: number) => boolean;
  const isMajorX = (v: number) => v % 2 === 0;
  const margPlugin = {
    id: 'marg',
    afterDraw(chart: any) {
      const { ctx, chartArea: ca, scales } = chart;
      const x = scales.x, y = scales.y;
      ctx.save();
      // top density
      const base = ca.top - 3;
      const tp = o.topX.map((v: number, i: number) => [x.getPixelForValue(v), base - o.topD[i] * o.topH]);
      ctx.beginPath();
      ctx.moveTo(tp[0][0], base);
      smoothPath(ctx, tp, false);
      ctx.lineTo(tp[tp.length - 1][0], base);
      ctx.closePath();
      ctx.fillStyle = '#D27369';
      ctx.fill();
      ctx.beginPath();
      smoothPath(ctx, tp, true);
      ctx.strokeStyle = '#111'; ctx.lineWidth = 1.3; ctx.stroke();
      // side density
      const left = ca.right + o.sideGap;
      const sp = o.sideY.map((v: number, i: number) => [left + o.sideD[i] * o.sideW, y.getPixelForValue(v)]);
      ctx.beginPath();
      ctx.moveTo(left, sp[0][1]);
      smoothPath(ctx, sp, false);
      ctx.lineTo(left, sp[sp.length - 1][1]);
      ctx.closePath();
      ctx.fillStyle = '#5096CD';
      ctx.fill();
      ctx.beginPath();
      smoothPath(ctx, sp, true);
      ctx.strokeStyle = '#111'; ctx.lineWidth = 1.3; ctx.stroke();
      // subtitle
      drawRich(ctx, statSegs(o.stats), (ca.left + ca.right) / 2 + 2, o.subY, 10, SERIF);
      // x title
      drawRich(ctx, [{ t: 'Log' }, { t: '2', sub: true }, { t: ' ESM1' }], (ca.left + ca.right) / 2, o.xTitleY, 22, SANS, 0.65, 0.3);
      ctx.restore();
    },
  };
  return new Chart(canvas, {
    type: 'scatter',
    data: {
      datasets: [
        { type: 'line', data: o.bandX.map((v: number, i: number) => ({ x: v, y: o.bandHi[i] })), borderColor: 'transparent', borderWidth: 1, pointRadius: 0, fill: false, tension: 0.4, order: 4 },
        { type: 'line', data: o.bandX.map((v: number, i: number) => ({ x: v, y: o.bandLo[i] })), borderColor: 'transparent', borderWidth: 1, pointRadius: 0, fill: '-1', backgroundColor: 'rgba(153,153,153,0.42)', tension: 0.4, order: 3 },
        { type: 'scatter', data: o.xs.map((v: number, i: number) => ({ x: v, y: o.ys[i] })), pointRadius: 4.3, backgroundColor: 'rgba(45,32,32,0.58)', borderWidth: 0, order: 2 },
        { type: 'line', data: o.fitX.map((v: number, i: number) => ({ x: v, y: o.fitY[i] })), borderColor: '#2350A6', borderWidth: 3.2, pointRadius: 0, fill: false, order: 1 },
      ],
    },
    options: {
      responsive: false,
      animation: false,
      events: [],
      layout: { autoPadding: false, padding: { top: o.padTop, right: o.padRight, left: 0, bottom: 0 } },
      plugins: { legend: { display: false }, tooltip: { enabled: false } },
      scales: {
        x: {
          type: 'linear', min: 0.81, max: 8.47,
          afterBuildTicks: (s: any) => { s.ticks = esm1Ticks.map((v) => ({ value: v })); },
          afterFit: (s: any) => { s.height = o.xAxisH; },
          ticks: { maxRotation: 0, autoSkip: false, padding: 3, color: '#1a1a1a', font: { size: 17 }, callback: (v: any) => (isMajorX(v) ? String(v) : '') },
          grid: {
            drawTicks: false,
            color: (c: any) => (c.tick && isMajorX(c.tick.value) ? '#E2E2E2' : '#EFEFEF'),
            lineWidth: (c: any) => (c.tick && isMajorX(c.tick.value) ? 1.2 : 0.8),
          },
          border: { display: false },
        },
        y: {
          type: 'linear', min: o.yMin, max: o.yMax,
          afterBuildTicks: (s: any) => { s.ticks = o.yTicks.map((v: number) => ({ value: v })); },
          afterFit: (s: any) => { s.width = o.yAxisW; },
          ticks: { padding: 2, color: '#1a1a1a', font: { size: 17 }, callback: (v: any) => (isMajorY(v) ? String(v) : '') },
          grid: {
            tickLength: 3,
            tickColor: (c: any) => (c.tick && isMajorY(c.tick.value) ? '#333' : 'rgba(0,0,0,0)'),
            color: (c: any) => (c.tick && isMajorY(c.tick.value) ? '#E2E2E2' : '#EFEFEF'),
            lineWidth: (c: any) => (c.tick && isMajorY(c.tick.value) ? 1.2 : 0.8),
          },
          border: { display: false },
          title: { display: false },
        },
      },
    } as any,
    plugins: [margPlugin, yTitlePlugin(o.yTitle, o.titleX, o.titleY, 22)],
  });
}

// ===================== COMPONENT =====================
const RECTS = {
  A: { left: 0, top: 0, w: 930, h: 470 },
  DT: { left: 1040, top: 0, w: 757, h: 100 },
  DB: { left: 1040, top: 95, w: 757, h: 370 },
  B1: { left: 0, top: 470, w: 900, h: 520 },
  B2: { left: 0, top: 960, w: 900, h: 485 },
  C: { left: 0, top: 1420, w: 900, h: 455 },
  E: { left: 900, top: 525, w: 445, h: 445 },
  F: { left: 1355, top: 525, w: 442, h: 445 },
  G: { left: 1000, top: 1180, w: 700, h: 680 },
};

const LETTERS = [
  { t: 'A', x: 0, y: 5 }, { t: 'B', x: 0, y: 493 }, { t: 'C', x: 0, y: 1420 }, { t: 'D', x: 1032, y: 3 },
  { t: 'E', x: 920, y: 492 }, { t: 'F', x: 1350, y: 493 }, { t: 'G', x: 920, y: 1132 },
];

export default function App() {
  const refs = useRef<Record<string, HTMLCanvasElement | null>>({});

  useEffect(() => {
    document.body.style.margin = '0';
    const r = refs.current;
    const charts: Chart[] = [];

    // Panel A
    charts.push(makeBoxChart(r.A!, {
      cats: timerCells, sig: timerSig, sigOff: -3, lowBox: timerLowBox, highBox: timerHighBox, lowPts: timerLowPts, highPts: timerHighPts,
      yMin: -0.03, yMax: 0.733, yTicks: timerTicks, yTitle: 'TIMER score', titleX: 35, titleY: 217.5,
      padTop: 51.5, padRight: 930 - 823, yAxisW: 78, xAxisH: 470 - 366.5, labelSize: 14,
      dodge: 0.2, boxW: 0.28, capW: 0.2, lw: 2, jw: 0.15, r: 3.3, extra: legendPlugin,
    }));

    // Panel B upper
    charts.push(makeBoxChart(r.B1!, {
      cats: cib1Cells, sig: cib1Sig, sigOff: 11.5, lowBox: cib1LowBox, highBox: cib1HighBox, lowPts: cib1LowPts, highPts: cib1HighPts,
      yMin: -0.0228, yMax: 0.454, yTicks: cib1Ticks, yTitle: 'CIBERSORT score', titleX: 34.5, titleY: 687 - 470,
      padTop: 551 - 470, padRight: 900 - 819, yAxisW: 78, xAxisH: 990 - 823, labelSize: 16,
      dodge: 0.19, boxW: 0.28, capW: 0.2, lw: 1.8, jw: 0.15, r: 3.4,
    }));

    // Panel B lower
    charts.push(makeBoxChart(r.B2!, {
      cats: cib2Cells, sig: cib2Sig, sigOff: 26, lowBox: cib2LowBox, highBox: cib2HighBox, lowPts: cib2LowPts, highPts: cib2HighPts,
      yMin: -0.04, yMax: 0.812, yTicks: cib2Ticks, yTitle: 'CIBERSORT score', titleX: 36, titleY: 1116 - 960,
      padTop: 993 - 960, padRight: 900 - 819, yAxisW: 78, xAxisH: 1445 - 1269, labelSize: 16,
      dodge: 0.19, boxW: 0.28, capW: 0.2, lw: 1.8, jw: 0.15, r: 3.4,
    }));

    // Panel C
    charts.push(makeBoxChart(r.C!, {
      cats: checkpointGenes, lowBox: icpLowBox, highBox: icpHighBox, lowPts: icpLowPts, highPts: icpHighPts,
      yMin: -0.29, yMax: 6.47, yTicks: checkpointTicks, yTitle: 'Immune checkpoint', titleX: 36, titleY: 1617 - 1420,
      padTop: 1466.7 - 1420, padRight: 900 - 821, yAxisW: 78, xAxisH: 1875 - 1816.7, labelSize: 13,
      dodge: 0.21, boxW: 0.285, capW: 0.2, lw: 1.8, jw: 0.15, r: 3.7,
    }));

    // Panel D table
    const tablePlugin = {
      id: 'table',
      afterDraw(chart: any) {
        const { ctx, chartArea: ca, scales } = chart;
        ctx.save();
        ctx.strokeStyle = '#8A8A8A'; ctx.lineWidth = 1.4;
        ctx.strokeRect(ca.left, ca.top, ca.right - ca.left, ca.bottom - ca.top);
        ctx.fillStyle = '#000'; ctx.font = `16px ${SANS}`; ctx.textAlign = 'center'; ctx.textBaseline = 'middle';
        responderCounts.forEach((row, ri) => row.forEach((v, ci) => {
          ctx.fillText(String(v), scales.x.getPixelForValue(ci + 1), scales.y.getPixelForValue(ri + 1));
        }));
        ctx.restore();
      },
    };
    charts.push(new Chart(r.DT!, {
      type: 'scatter',
      data: { datasets: [{ data: [], pointRadius: 0 }] },
      options: {
        responsive: false, animation: false, events: [],
        layout: { autoPadding: false, padding: { top: 12, right: 1797 - 1608.5, left: 0, bottom: 0 } },
        plugins: { legend: { display: false }, tooltip: { enabled: false } },
        scales: {
          x: {
            type: 'linear', min: 0.4, max: 2.6,
            afterBuildTicks: (s: any) => { s.ticks = groupNames.map((_, i) => ({ value: i + 1 })); },
            afterFit: (s: any) => { s.height = 9; },
            ticks: { display: false }, grid: { color: '#EDEDED', drawTicks: false }, border: { display: false },
          },
          y: {
            type: 'linear', min: 0.6, max: 2.4,
            afterBuildTicks: (s: any) => { s.ticks = responderLevels.map((_, i) => ({ value: i + 1 })); },
            afterFit: (s: any) => { s.width = 1161.7 - 1040; },
            ticks: { color: '#000', font: { size: 15 }, padding: 1, callback: (_v: any, i: number) => responderLevels[i] },
            grid: { color: '#EDEDED', tickColor: '#333', tickLength: 3 },
            border: { display: false },
            title: { display: true, text: 'Responder', color: '#000', font: { size: 14 }, padding: { top: 57.6, bottom: 0 } },
          },
        },
      } as any,
      plugins: [tablePlugin],
    }));

    // Panel D box
    const bracketPlugin = {
      id: 'bracket',
      afterDraw(chart: any) {
        const { ctx, scales } = chart;
        const x1 = scales.x.getPixelForValue(1), x2 = scales.x.getPixelForValue(2);
        const yb = scales.y.getPixelForValue(2.31), yd = scales.y.getPixelForValue(2.18);
        ctx.save();
        ctx.strokeStyle = '#333'; ctx.lineWidth = 1.6;
        ctx.beginPath(); ctx.moveTo(x1, yd); ctx.lineTo(x1, yb); ctx.lineTo(x2, yb); ctx.lineTo(x2, yd); ctx.stroke();
        drawRich(ctx, [{ t: 'P', it: true }, { t: ' =' + tidePValue }], (x1 + x2) / 2 + 3, yb - 6, 15, SANS);
        ctx.restore();
      },
    };
    charts.push(new Chart(r.DB!, {
      type: 'scatter',
      data: {
        datasets: [
          { data: tideLow.map((v, i) => ({ x: 1 + jit(i) * 0.2, y: v })), backgroundColor: '#C8382C', pointRadius: 2.4, borderWidth: 0 },
          { data: tideHigh.map((v, i) => ({ x: 2 + jit(i) * 0.2, y: v })), backgroundColor: '#1F74BE', pointRadius: 2.4, borderWidth: 0 },
        ],
      },
      options: {
        responsive: false, animation: false, events: [],
        layout: { autoPadding: false, padding: { top: 113 - 95, right: 1797 - 1610.2, left: 0, bottom: 0 } },
        plugins: { legend: { display: false }, tooltip: { enabled: false } },
        scales: {
          x: {
            type: 'linear', min: 0.4, max: 2.6,
            afterBuildTicks: (s: any) => { s.ticks = groupNames.map((_, i) => ({ value: i + 1 })); },
            afterFit: (s: any) => { s.height = 465 - 417; },
            ticks: { color: '#000', font: { size: 16 }, padding: 5, callback: (_v: any, i: number) => groupNames[i] },
            grid: { drawOnChartArea: false, tickLength: 4, tickColor: '#333', color: '#333' },
            border: { display: true, color: '#333', width: 2 },
          },
          y: {
            type: 'linear', min: -2.475, max: 2.51,
            afterBuildTicks: (s: any) => { s.ticks = tideTicks.map((v) => ({ value: v })); },
            afterFit: (s: any) => { s.width = 1161.7 - 1040; },
            ticks: { color: '#000', font: { size: 16 }, padding: 1, callback: (v: any) => String(v) },
            grid: { drawOnChartArea: false, tickLength: 4, tickColor: '#333', color: '#333' },
            border: { display: true, color: '#333', width: 2 },
            title: { display: false },
          },
        },
      } as any,
      plugins: [
        boxesPlugin([{ cx: 1, s: tideLowBox, color: '#C8382C' }, { cx: 2, s: tideHighBox, color: '#1F74BE' }], 0.5, 0.4, 1.4),
        bracketPlugin,
        yTitlePlugin('TIDE score', 1112 - 1040, 259 - 95, 22),
      ],
    }));

    // Panel E
    charts.push(makeCorrChart(r.E!, {
      xs: tmbESM1, ys: tmbScore, fitX: tmbFitX, fitY: tmbFitY, bandX: tmbBandX, bandLo: tmbBandLo, bandHi: tmbBandHi,
      yMin: -0.3, yMax: 4.93, yTicks: tmbTicks, isMajorY: (v: number) => Number.isInteger(v), yTitle: 'TMB score', titleX: 916 - 900, titleY: 776 - 525,
      padTop: 615 - 525, padRight: 1345 - 1265.5, yAxisW: 945.3 - 900, xAxisH: 970 - 911.7,
      topX: tmbTopX, topD: tmbTopD, topH: 55, sideY: tmbSideY, sideD: tmbSideD, sideW: 59, sideGap: 2,
      stats: tmbStats, subY: 546.5 - 525, xTitleY: 956 - 525,
    }));

    // Panel F
    charts.push(makeCorrChart(r.F!, {
      xs: msiESM1, ys: msiScore, fitX: msiFitX, fitY: msiFitY, bandX: msiBandX, bandLo: msiBandLo, bandHi: msiBandHi,
      yMin: 0.318, yMax: 0.624, yTicks: msiTicks, isMajorY: (v: number) => Math.abs(v * 10 - Math.round(v * 10)) < 1e-6, yTitle: 'MSI score', titleX: 1378 - 1355, titleY: 783 - 525,
      padTop: 616.3 - 525, padRight: 1797 - 1736.3, yAxisW: 1417 - 1355, xAxisH: 970 - 915,
      topX: msiTopX, topD: msiTopD, topH: 56, sideY: msiSideY, sideD: msiSideD, sideW: 58, sideGap: 4,
      stats: msiStats, subY: 546.5 - 525, xTitleY: 956 - 525,
    }));

    // Panel G
    const NODE_R = 26.5;
    const netPlugin = {
      id: 'net',
      beforeDatasetsDraw(chart: any) {
        const { ctx, scales } = chart;
        const hx = scales.x.getPixelForValue(hubLayout[0]), hy = scales.y.getPixelForValue(hubLayout[1]);
        ctx.save();
        drugNames.forEach((_, i) => {
          const sx = scales.x.getPixelForValue(drugLayoutX[i]), sy = scales.y.getPixelForValue(drugLayoutY[i]);
          const dx = hx - sx, dy = hy - sy, L = Math.hypot(dx, dy), ux = dx / L, uy = dy / L;
          const tipX = hx - ux * (NODE_R + 1), tipY = hy - uy * (NODE_R + 1);
          const isT1 = drugEdgeType[i] === 'type1';
          const color = isT1 ? '#EE3A2C' : '#74BE47';
          const ah = isT1 ? 11 : 12, aw = isT1 ? 4.5 : 5.5;
          const bx = tipX - ux * ah, by = tipY - uy * ah;
          ctx.strokeStyle = color; ctx.lineWidth = isT1 ? 2.2 : 3.4;
          ctx.beginPath(); ctx.moveTo(sx, sy); ctx.lineTo(bx + ux * 2, by + uy * 2); ctx.stroke();
          ctx.fillStyle = color;
          ctx.beginPath(); ctx.moveTo(tipX, tipY); ctx.lineTo(bx - uy * aw, by + ux * aw); ctx.lineTo(bx + ux * 3, by + uy * 3); ctx.lineTo(bx + uy * aw, by - ux * aw); ctx.closePath(); ctx.fill();
        });
        ctx.restore();
      },
      afterDatasetsDraw(chart: any) {
        const { ctx, scales } = chart;
        ctx.save();
        ctx.font = `20px ${SANS}`; ctx.fillStyle = '#000'; ctx.textAlign = 'center'; ctx.textBaseline = 'middle';
        drugNames.forEach((nm, i) => ctx.fillText(nm, scales.x.getPixelForValue(drugLayoutX[i]), scales.y.getPixelForValue(drugLayoutY[i])));
        ctx.fillText(hubName, scales.x.getPixelForValue(hubLayout[0]), scales.y.getPixelForValue(hubLayout[1]));
        ctx.restore();
      },
    };
    charts.push(new Chart(r.G!, {
      type: 'scatter',
      data: {
        datasets: [{
          data: [...drugNames.map((_, i) => ({ x: drugLayoutX[i], y: drugLayoutY[i] })), { x: hubLayout[0], y: hubLayout[1] }],
          pointRadius: NODE_R, borderWidth: 0,
          backgroundColor: [...drugNames.map(() => '#4DB848'), '#F59D38'],
          clip: false,
        }],
      },
      options: {
        responsive: false, animation: false, events: [],
        layout: { autoPadding: false, padding: 0 },
        plugins: { legend: { display: false }, tooltip: { enabled: false } },
        scales: { x: { display: false, min: 0, max: 700 }, y: { display: false, min: 0, max: 680, reverse: true } },
      } as any,
      plugins: [netPlugin],
    }));

    return () => { charts.forEach((c) => c.destroy()); };
  }, []);

  return (
    <div style={{ position: 'relative', width: 1797, height: 1875, background: '#fff', overflow: 'hidden' }}>
      {Object.entries(RECTS).map(([k, rc]) => (
        <canvas
          key={k}
          ref={(el) => { refs.current[k] = el; }}
          width={rc.w}
          height={rc.h}
          style={{ position: 'absolute', left: rc.left, top: rc.top, width: rc.w, height: rc.h }}
        />
      ))}
      {LETTERS.map((l) => (
        <div key={l.t} style={{ position: 'absolute', left: l.x, top: l.y, font: `bold 25px ${SANS}`, lineHeight: '25px', color: '#000' }}>{l.t}</div>
      ))}
    </div>
  );
}
